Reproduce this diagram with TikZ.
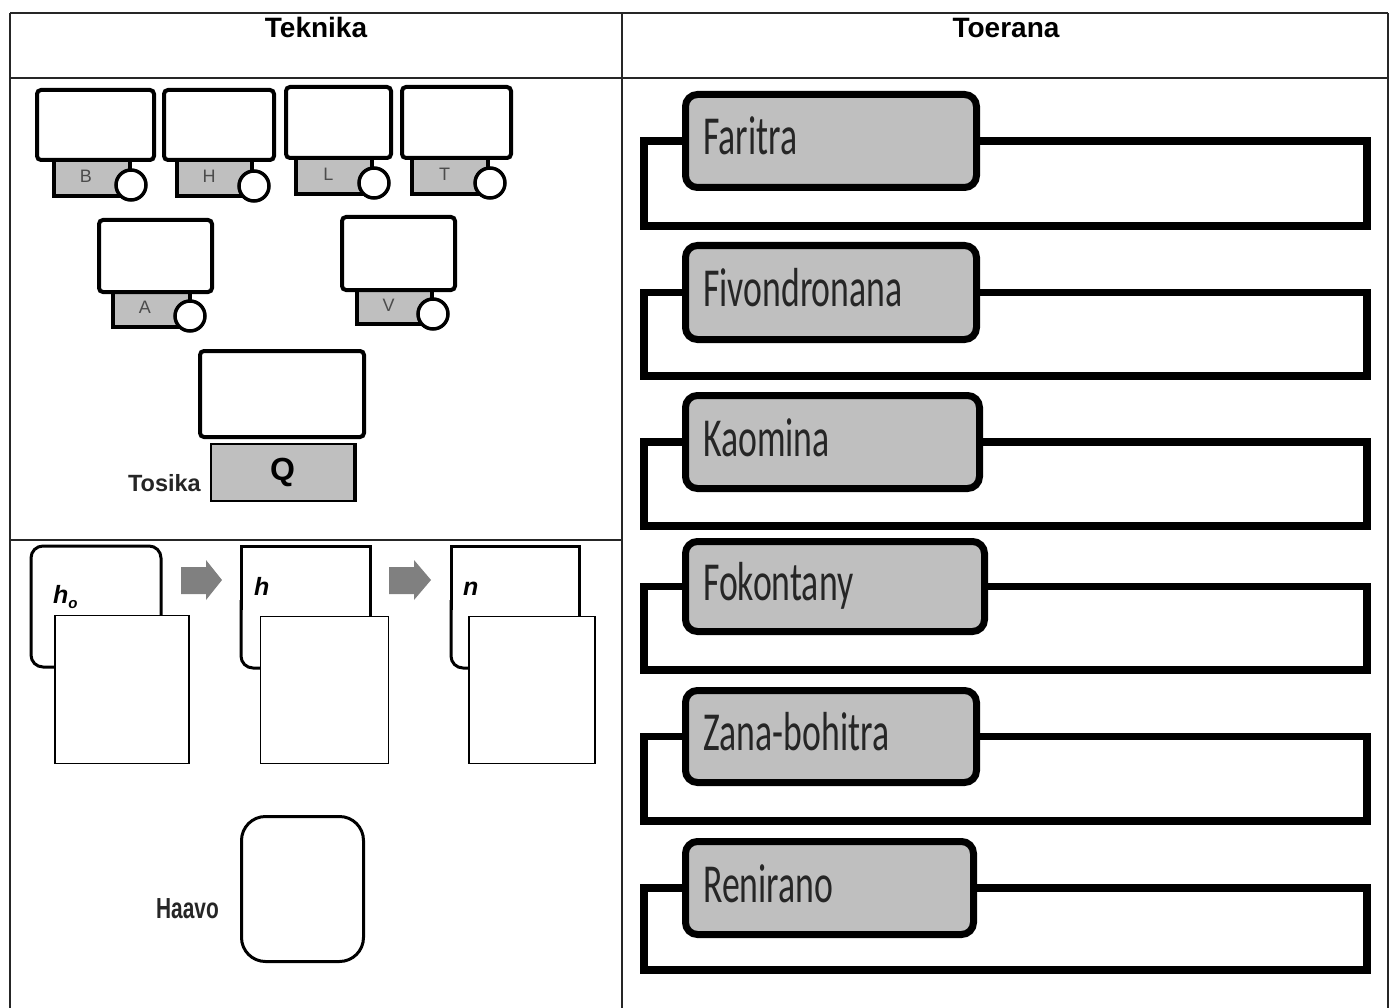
\documentclass[tikz,border=0pt]{standalone}
\usepackage{fontspec}
\setmainfont{Liberation Sans}
\newfontfamily\calib{Carlito}
\tikzset{
  grid/.style={line width=2pt, draw=black!85},
  hdr/.style={font=\fontsize{28}{30}\selectfont\bfseries, anchor=base, inner sep=0pt},
  mon/.style={draw, line width=4pt, rounded corners=4pt, fill=white, inner sep=0pt},
  tabbox/.style={draw, line width=4pt, fill=black!25, inner sep=0pt},
  wheel/.style={draw, line width=3.5pt, fill=white, circle, minimum size=30pt, inner sep=0pt},
  tablbl/.style={font=\fontsize{18}{18}\selectfont, text=black!70, inner sep=0pt},
  level/.style={draw, line width=7pt, rounded corners=12pt, fill=black!25, inner sep=0pt},
  lvtext/.style={font=\calib\fontsize{55}{60}\selectfont, text=black!85, anchor=base west, inner sep=0pt},
  bracket/.style={line width=7.5pt, line join=miter},
  backline/.style={line width=3pt},
  front/.style={draw, line width=1.8pt, fill=white, inner sep=0pt},
  arrowfill/.style={fill=black!50},
  steplbl/.style={font=\fontsize{25}{25}\selectfont\bfseries\itshape, anchor=base west, inner sep=0pt},
}
\begin{document}
\begin{tikzpicture}[x=1pt,y=-1pt]
\useasboundingbox[fill=white] (0,0) rectangle (1396,1008);

% table grid
\draw[grid] (10,13) -- (1388,13);
\draw[grid] (10,78) -- (1388,78);
\draw[grid] (10,13) -- (10,1008);
\draw[grid] (622,13) -- (622,1008);
\draw[grid] (1388,13) -- (1388,1008);
\draw[grid] (10,540) -- (622,540);

\node[hdr] (hTek) at (316,38) {Teknika};
\node[hdr] (hToe) at (1006,38) {Toerana};

% monitors with tabs
\foreach \n/\lab/\xa/\ya/\xb/\yb/\ua/\ub/\uc/\cx/\cy in {
  B/B/37/90/154/160/54/130/196/131/185,
  H/H/164/90/274/160/177/252/196/254/186,
  L/L/286/87/391/158/296/372/194/374/183,
  T/T/402/87/511/158/412/488/194/490/183,
  A/A/99/220/212/292/113/190/327/190/316,
  V/V/342/217/455/290/357/432/324/433/314}
{
  \node[tabbox, minimum width={\ub-\ua}, minimum height={\uc-\yb}] (tab\n) at ({(\ua+\ub)/2},{(\yb+\uc)/2}) {};
  \node[mon, minimum width={\xb-\xa}, minimum height={\yb-\ya}] (mon\n) at ({(\xa+\xb)/2},{(\ya+\yb)/2}) {};
  \node[wheel] (wh\n) at (\cx,\cy) {};
  \node[tablbl] (lb\n) at ({(\ua+\cx-15)/2+1},{(\yb+\uc)/2-2}) {\lab};
}

% big monitor with Q
\node[mon, minimum width=164, minimum height=86] (big) at (282,394) {};
\node[draw, line width=2pt, fill=black!25, minimum width=143, minimum height=57, inner sep=0pt,
      font=\fontsize{32}{32}\selectfont\bfseries] (qtab) at (282.5,472.5) {Q};
\draw[line width=4.5pt] (qtab.north east) -- (qtab.south east);
\node[font=\fontsize{23.5}{24}\selectfont\bfseries, anchor=base east, inner sep=0pt, text=black!85] (tosika) at (201,491) {Tosika};

% h0 -> h -> n sequence
\node[draw, line width=3pt, rounded corners=12pt, minimum width=130, minimum height=121, inner sep=0pt] (back0) at (96,606.5) {};
\node[front, minimum width=134, minimum height=148] (front0) at (122,689.5) {};
\node[steplbl] (lh0) at (53,603) {h\raisebox{-5pt}{\fontsize{15}{15}\selectfont o}};

\draw[backline, rounded corners=12pt] (262,668) -- (241,668) -- (241,600);
\draw[backline] (241,610) -- (241,546) -- (370,546) -- (370,622);
\node[front, minimum width=128, minimum height=147] (front1) at (324.5,690) {};
\node[steplbl] (lh) at (254,595) {h};

\draw[backline, rounded corners=12pt] (471,668) -- (451,668) -- (451,600);
\draw[backline] (451,610) -- (451,546) -- (579,546) -- (579,622);
\node[front, minimum width=126, minimum height=147] (front2) at (532,690) {};
\node[steplbl] (ln) at (463,595) {n};

\fill[arrowfill] (181,567) -- (206,567) -- (206,560) -- (222,580) -- (206,600) -- (206,594) -- (181,594) -- cycle;
\fill[arrowfill] (389,567) -- (414,567) -- (414,560) -- (431,580) -- (414,600) -- (414,594) -- (389,594) -- cycle;

% Haavo
\node[draw, line width=3pt, rounded corners=24pt, minimum width=122, minimum height=145, inner sep=0pt] (haavo) at (302.5,889) {};
\node[font=\fontsize{29}{30}\selectfont\bfseries, anchor=base east, inner sep=0pt, text=black!85] (haavolbl) at (219,918) {\scalebox{0.72}[1]{Haavo}};

% right column levels
\foreach \n/\t/\r/\ya/\yb/\yc in {
  1/Faritra/980/91/191/226,
  2/Fivondronana/980/242/343/376,
  3/Kaomina/983/392/492/526,
  4/Fokontany/988/538/635/670,
  5/Zana-bohitra/980/687/786/821,
  6/Renirano/977/838/938/970}
{
  \node[level, minimum width={\r-689}, minimum height={\yb-\ya-7}] (lv\n) at ({(682+\r)/2},{(\ya+\yb)/2}) {};
  \draw[bracket] (lv\n.west) -| (644,\yc) -| (1367,{(\ya+\yb)/2}) -- (lv\n.east);
  \node[lvtext] (lt\n) at (703,{(\ya+\yb)/2+14}) {\scalebox{0.65}[1]{\t}};
}
\end{tikzpicture}
\end{document}
